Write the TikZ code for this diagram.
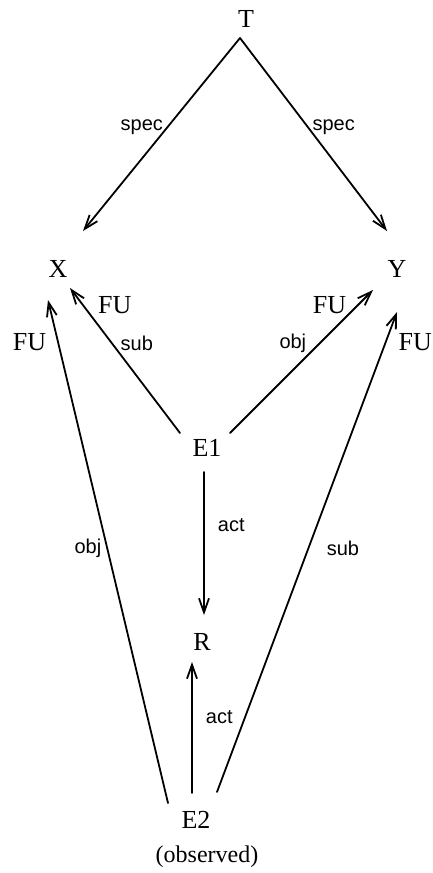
\documentclass[tikz,border=0pt]{standalone}
\usepackage{fontspec}
\setmainfont{Liberation Serif}
\newfontfamily\edgefont{Liberation Sans}
\usetikzlibrary{arrows.meta}

\begin{document}
\begin{tikzpicture}[
  x=0.5pt, y=-0.5pt,
  line cap=round, line join=round,
  every node/.style={font=\fontsize{13}{15}\selectfont, inner sep=0pt},
  rel/.style={draw=black, line width=0.9pt, -{Straight Barb[length=7pt,width=5pt]}},
  tag/.style={font=\edgefont\fontsize{10}{12}\selectfont, inner sep=2pt},
  fu/.style={inner sep=2pt},
]
\useasboundingbox (0,0) rectangle (433,873);
% concepts
\node (T)   at (246,19)  {T};
\node (X)   at (58,269)  {X};
\node (Y)   at (397,269) {Y};
\node (E1)  at (207,448) {E1};
\node (R)   at (202,642) {R};
\node (E2)  at (196,820) {E2};
\node[font=\fontsize{12}{14}\selectfont] (obs) at (207,857) {(observed)};
% relations
\draw[rel] ([shift={(-6,19)}]T.center) -- node[tag, pos=0.46, anchor=east] {spec} ([shift={(25,-38)}]X.center);
\draw[rel] ([shift={(-6,19)}]T.center) -- node[tag, pos=0.46, anchor=west] {spec} ([shift={(-10,-38)}]Y.center);
\draw[rel] ([shift={(-27,-15)}]E1.center) -- node[tag, pos=0.62, anchor=west, xshift=2pt] {sub}
  node[fu, pos=0.88, anchor=west, xshift=5pt] {FU} ([shift={(12,19)}]X.center);
\draw[rel] ([shift={(23,-15)}]E1.center) -- node[tag, pos=0.63, anchor=east, xshift=-4.5pt] {obj}
  node[fu, pos=0.895, anchor=east, xshift=-3.5pt] {FU} ([shift={(-24,21)}]Y.center);
\draw[rel] ([shift={(-3,24)}]E1.center) -- node[tag, pos=0.37, anchor=west, xshift=4.5pt] {act} ([shift={(2,-27)}]R.center);
\draw[rel] ([shift={(-4,-27)}]E2.center) -- node[tag, pos=0.58, anchor=west, xshift=4.5pt] {act} ([shift={(-10,20)}]R.center);
\draw[rel] ([shift={(-28,-17)}]E2.center) -- node[tag, pos=0.507, anchor=east, xshift=-0.5pt] {obj}
  node[fu, pos=0.917, anchor=east, xshift=-3.5pt] {FU} ([shift={(-10,31)}]X.center);
\draw[rel] ([shift={(21,-28)}]E2.center) -- node[tag, pos=0.508, anchor=west, xshift=6.75pt] {sub}
  node[fu, pos=0.9375, anchor=west, xshift=4pt] {FU} ([shift={(0,43)}]Y.center);
\end{tikzpicture}
\end{document}
